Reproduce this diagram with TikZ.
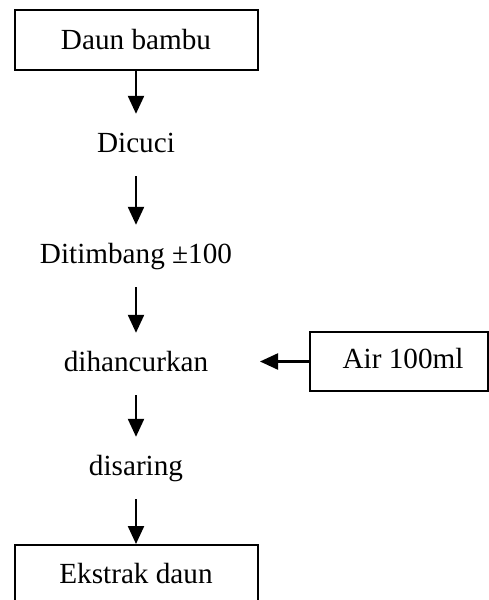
\documentclass[tikz,border=0pt]{standalone}
\usepackage{fontspec}
\setmainfont{Liberation Serif}
\usetikzlibrary{arrows.meta}
\begin{document}
\begin{tikzpicture}[x=1pt,y=-1pt,
  every node/.style={font=\fontsize{29.2}{35}\selectfont},
  boxnode/.style={draw,line width=2pt,inner sep=0pt,text depth=6pt},
  stepnode/.style={anchor=base,inner xsep=2pt,inner ysep=18pt,text height=20pt,text depth=6pt},
  arr/.style={line width=2.3pt,-{Triangle[width=16pt,length=18pt]}}]
\useasboundingbox (0,0) rectangle (489,600);
\node[boxnode,minimum width=243pt,minimum height=60pt,text height=24pt] (top) at (136,40) {Daun bambu};
\node[stepnode] (cuci) at (136,152) {Dicuci};
\node[stepnode] (timbang) at (136,263) {Ditimbang ±100};
\node[stepnode] (hancur) at (136,371) {dihancurkan};
\node[stepnode] (saring) at (136,475) {disaring};
\node[boxnode,minimum width=243pt,minimum height=60pt,text height=22pt] (bottom) at (136,575) {Ekstrak daun};
\node[boxnode,minimum width=178pt,minimum height=59pt,text height=19pt] (air) at (399,361.5) {\hspace{8pt}Air 100ml};
\coordinate (tip) at (260,361.5);
\draw[arr] (top.south) -- (cuci.north);
\draw[arr] (cuci.south) -- (timbang.north);
\draw[arr] (timbang.south) -- (hancur.north);
\draw[arr] (hancur.south) -- (saring.north);
\draw[arr] (saring.south) -- (bottom.north);
\draw[arr] (air.west) -- (tip);
\end{tikzpicture}
\end{document}
